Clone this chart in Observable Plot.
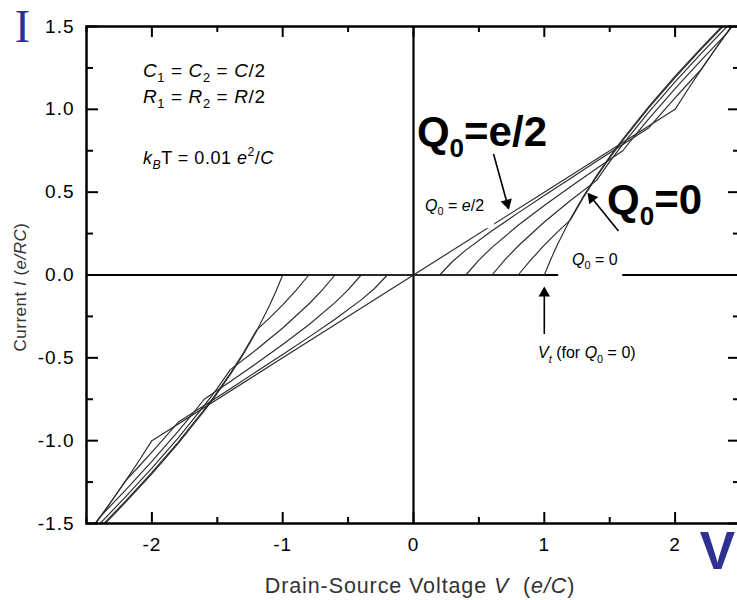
<!DOCTYPE html>
<html><head><meta charset="utf-8">
<script src="https://cdn.jsdelivr.net/npm/d3@7"></script>
<script src="https://cdn.jsdelivr.net/npm/@observablehq/plot@0.6"></script>
<style>body{margin:0;background:#fff} #chart svg{display:block}</style>
</head><body><div id="chart"></div>
<script>
// I–V curves of a symmetric single-electron transistor (V in e/C, I in e/RC)
const curveQ0_00 = [[-2.5,-1.615],[-2.4,-1.536],[-2.2,-1.371],[-2.0,-1.2],[-1.8,-1.018],[-1.6,-0.821],[-1.5,-0.714],[-1.4,-0.6],[-1.3,-0.476],[-1.2,-0.339],[-1.1,-0.183],[-1.05,-0.095],[-1.0,0],[0,0],[1.0,0],[1.05,0.095],[1.1,0.183],[1.2,0.339],[1.3,0.476],[1.4,0.6],[1.5,0.714],[1.6,0.821],[1.8,1.018],[2.0,1.2],[2.2,1.371],[2.4,1.536],[2.5,1.615]];
const curveQ0_01 = [[-2.5,-1.607],[-2.4,-1.527],[-2.2,-1.363],[-2.0,-1.192],[-1.8,-1.01],[-1.6,-0.813],[-1.5,-0.707],[-1.4,-0.593],[-1.3,-0.469],[-1.2,-0.333],[-1.1,-0.259],[-1.0,-0.18],[-0.9,-0.094],[-0.8,0],[0,0],[0.8,0],[0.9,0.094],[1.0,0.18],[1.1,0.259],[1.2,0.333],[1.3,0.469],[1.4,0.593],[1.5,0.707],[1.6,0.813],[1.8,1.01],[2.0,1.192],[2.2,1.363],[2.4,1.527],[2.5,1.607]];
const curveQ0_02 = [[-2.5,-1.583],[-2.4,-1.503],[-2.2,-1.338],[-2.0,-1.166],[-1.8,-0.985],[-1.6,-0.789],[-1.5,-0.684],[-1.4,-0.571],[-1.2,-0.45],[-1.0,-0.32],[-0.8,-0.175],[-0.7,-0.093],[-0.6,0],[0,0],[0.6,0],[0.7,0.093],[0.8,0.175],[1.0,0.32],[1.2,0.45],[1.4,0.571],[1.5,0.684],[1.6,0.789],[1.8,0.985],[2.0,1.166],[2.2,1.338],[2.4,1.503],[2.5,1.583]];
const curveQ0_03 = [[-2.5,-1.569],[-2.45,-1.516],[-2.4,-1.463],[-2.2,-1.297],[-2.0,-1.125],[-1.8,-0.944],[-1.7,-0.849],[-1.6,-0.75],[-1.4,-0.643],[-1.2,-0.533],[-1.0,-0.42],[-0.8,-0.3],[-0.6,-0.167],[-0.5,-0.09],[-0.4,0],[0,0],[0.4,0],[0.5,0.09],[0.6,0.167],[0.8,0.3],[1.0,0.42],[1.2,0.533],[1.4,0.643],[1.6,0.75],[1.7,0.849],[1.8,0.944],[2.0,1.125],[2.2,1.297],[2.4,1.463],[2.45,1.516],[2.5,1.569]];
const curveQ0_04 = [[-2.5,-1.573],[-2.4,-1.466],[-2.3,-1.355],[-2.2,-1.241],[-2.1,-1.156],[-2.0,-1.069],[-1.9,-0.98],[-1.8,-0.889],[-1.6,-0.788],[-1.4,-0.686],[-1.2,-0.583],[-1.0,-0.48],[-0.8,-0.375],[-0.6,-0.267],[-0.4,-0.15],[-0.3,-0.083],[-0.2,0],[0,0],[0.2,0],[0.3,0.083],[0.4,0.15],[0.6,0.267],[0.8,0.375],[1.0,0.48],[1.2,0.583],[1.4,0.686],[1.6,0.788],[1.8,0.889],[1.9,0.98],[2.0,1.069],[2.1,1.156],[2.2,1.241],[2.3,1.355],[2.4,1.466],[2.5,1.573]];
const curveQ0_05 = [[-2.5,-1.575],[-2.4,-1.467],[-2.3,-1.355],[-2.2,-1.241],[-2.1,-1.123],[-2.0,-1.0],[-1.0,-0.5],[0,0],[1.0,0.5],[2.0,1.0],[2.1,1.123],[2.2,1.241],[2.3,1.355],[2.4,1.467],[2.5,1.575]];
const curveNames = ["0", "0.1e", "0.2e", "0.3e", "0.4e", "e/2"];
const curveList = [curveQ0_00, curveQ0_01, curveQ0_02, curveQ0_03, curveQ0_04, curveQ0_05];

const xMajorTicks = [-2, -1, 0, 1, 2];
const xMinorTicks = [-2.5, -1.5, -0.5, 0.5, 1.5, 2.5];
const yMajorTicks = [-1.5, -1, -0.5, 0, 0.5, 1, 1.5];
const yMinorTicks = [-1.25, -0.75, -0.25, 0.25, 0.75, 1.25];

// arrows (data units): start -> tip, head centre, head rotation
const arrowStartV = [0.612, 1.567, 1.0];
const arrowStartI = [0.730, 0.266, -0.356];
const arrowTipV = [0.726, 1.338, 1.0];
const arrowTipI = [0.404, 0.489, -0.078];
const arrowHeadV = [0.716, 1.362, 1.0];
const arrowHeadI = [0.433, 0.465, -0.109];
const arrowHeadRot = [164.5, -39, 0];

// white label backgrounds (data units) that interrupt lines, as in the reference
const boxV1 = [0.05, 1.11];
const boxV2 = [0.62, 1.60];
const boxI1 = [0.28, -0.015];
const boxI2 = [0.48, 0.10];

// text annotations: segments [text, style]
const noteCap = [["C","i"],["1","sub"],[" = ",""],["C","i"],["2","sub"],[" = ",""],["C","i"],["/2",""]];
const noteRes = [["R","i"],["1","sub"],[" = ",""],["R","i"],["2","sub"],[" = ",""],["R","i"],["/2",""]];
const noteTemp = [["k","i"],["B","isub"],["T = 0.01 ",""],["e","i"],["2","sup"],["/",""],["C","i"]];
const bigHalf = [["Q",""],["0","sub"],["=e/2",""]];
const bigZero = [["Q",""],["0","sub"],["=0",""]];
const smallHalf = [["Q","i"],["0","sub"],[" = ",""],["e","i"],["/2",""]];
const smallZero = [["Q","i"],["0","sub"],[" = 0",""]];
const noteVt = [["V","i"],["t","isub"],[" (for ",""],["Q","i"],["0","sub"],[" = 0)",""]];
const xTitle = [["Drain-Source Voltage ",""],["V","i"],["  (",""],["e/C","i"],[")",""]];
const yTitle = [["Current ",""],["I","i"],[" (",""],["e/RC","i"],[")",""]];
// positions (data units) of annotation baselines
const noteV = [-2.064, -2.064, -2.064, 0.030, 1.483, 0.092, 1.216, 0.956];
const noteI = [1.195, 1.035, 0.670, 0.778, 0.368, 0.386, 0.060, -0.507];

const rows = curveList.flatMap((c, k) => c.map(([V, I]) => ({V, I, q: curveNames[k]})));
const arrows = arrowStartV.map((v, k) => ({x1: v, y1: arrowStartI[k], x2: arrowTipV[k], y2: arrowTipI[k], hx: arrowHeadV[k], hy: arrowHeadI[k], r: arrowHeadRot[k]}));
const boxes = boxV1.map((v, k) => ({x1: v, x2: boxV2[k], y1: boxI1[k], y2: boxI2[k]}));

const FW = 654, FH = 497;
const plot = Plot.plot({
  width: 737, height: 600,
  marginLeft: 86, marginRight: -3, marginTop: 26, marginBottom: 77,
  x: {domain: [-2.5, 2.5]},
  y: {domain: [-1.5, 1.5]},
  style: {fontFamily: "'Liberation Sans', Arial, sans-serif", color: "#000", background: "#fff"},
  marks: [
    Plot.ruleX([0], {stroke: "#000", strokeWidth: 2.2}),
    Plot.ruleY([0], {stroke: "#000", strokeWidth: 2.2}),
    Plot.line(rows, {x: "V", y: "I", z: "q", stroke: "#2a2a2a", strokeWidth: 1.15, clip: true}),
    Plot.rect(boxes, {x1: "x1", x2: "x2", y1: "y1", y2: "y2", fill: "#fff"}),
    Plot.ruleX(xMajorTicks, {x: d => d, insetTop: FH - 11, stroke: "#000", strokeWidth: 2}),
    Plot.ruleX(xMajorTicks, {x: d => d, insetBottom: FH - 11, stroke: "#000", strokeWidth: 2}),
    Plot.ruleX(xMinorTicks, {x: d => d, insetTop: FH - 6, stroke: "#000", strokeWidth: 2}),
    Plot.ruleX(xMinorTicks, {x: d => d, insetBottom: FH - 6, stroke: "#000", strokeWidth: 2}),
    Plot.ruleY(yMajorTicks, {y: d => d, insetRight: FW - 12, stroke: "#000", strokeWidth: 2}),
    Plot.ruleY(yMajorTicks, {y: d => d, insetLeft: FW - 12, stroke: "#000", strokeWidth: 2}),
    Plot.ruleY(yMinorTicks, {y: d => d, insetRight: FW - 7, stroke: "#000", strokeWidth: 2}),
    Plot.ruleY(yMinorTicks, {y: d => d, insetLeft: FW - 7, stroke: "#000", strokeWidth: 2}),
    Plot.frame({stroke: "#000", strokeWidth: 2.5}),
    Plot.axisX(xMajorTicks, {tickSize: 0, tickPadding: 14, tickFormat: d => String(d), fontSize: 19, label: null}),
    Plot.axisY(yMajorTicks, {tickSize: 0, tickPadding: 12, tickFormat: d => d.toFixed(1), fontSize: 19, label: null}),
    Plot.link(arrows, {x1: "x1", y1: "y1", x2: "x2", y2: "y2", stroke: "#000", strokeWidth: 1.6}),
    Plot.dot(arrows, {x: "hx", y: "hy", symbol: "triangle2", r: 5.5, fill: "#000", rotate: "r"}),
    Plot.text(["I"], {frameAnchor: "top-left", dx: -64, dy: 15, lineAnchor: "bottom", textAnchor: "middle", fontSize: 46, fontFamily: "'Liberation Serif', 'DejaVu Serif', serif", fill: "#2e3192"}),
    Plot.text(["V"], {frameAnchor: "bottom-right", dx: -23, dy: 45, lineAnchor: "bottom", textAnchor: "middle", fontSize: 53, fontWeight: "bold", fill: "#2e3192"})
  ]
});
document.getElementById("chart").appendChild(plot);

const svg = d3.select(plot);
svg.selectAll('g[aria-label="x-axis tick label"] text, g[aria-label="y-axis tick label"] text').attr("letter-spacing", "1px");
const sx = plot.scale("x"), sy = plot.scale("y");

function rich(segs, px, py, size, opts = {}) {
  const t = svg.append("text")
    .attr("x", px).attr("y", py)
    .attr("font-size", size)
    .attr("font-family", "'Liberation Sans', Arial, sans-serif")
    .attr("font-weight", opts.bold ? "bold" : "normal")
    .attr("fill", opts.fill || "#000")
    .attr("text-anchor", opts.anchor || "start");
  if (opts.letter) t.attr("letter-spacing", opts.letter);
  if (opts.rotate) t.attr("transform", `rotate(${opts.rotate},${px},${py})`);
  let shift = 0;
  const subScale = opts.subScale || 0.68;
  for (const [txt, st] of segs) {
    const isSub = st.includes("sub"), isSup = st.includes("sup");
    const target = isSub ? 0.28 * size : isSup ? -0.4 * size : 0;
    const ts = t.append("tspan").text(txt);
    if (target !== shift) { ts.attr("dy", target - shift); shift = target; }
    if (isSub || isSup) ts.attr("font-size", size * subScale);
    if (st.includes("i")) ts.attr("font-style", "italic");
  }
  return t;
}
const P = k => [sx.apply(noteV[k]), sy.apply(noteI[k])];
rich(noteCap, ...P(0), 19, {letter: "0.6px"});
rich(noteRes, ...P(1), 19, {letter: "0.6px"});
rich(noteTemp, ...P(2), 18, {letter: "0.5px"});
rich(bigHalf, ...P(3), 42, {bold: true, subScale: 0.62});
rich(bigZero, ...P(4), 42, {bold: true, subScale: 0.62});
rich(smallHalf, ...P(5), 16);
rich(smallZero, ...P(6), 16);
rich(noteVt, ...P(7), 16);
rich(xTitle, 420, 593, 21.5, {anchor: "middle", fill: "#333", letter: "0.9px"});
rich(yTitle, 26, 287, 17, {anchor: "middle", fill: "#333", rotate: -90, letter: "0.5px"});
</script>
</body></html>
